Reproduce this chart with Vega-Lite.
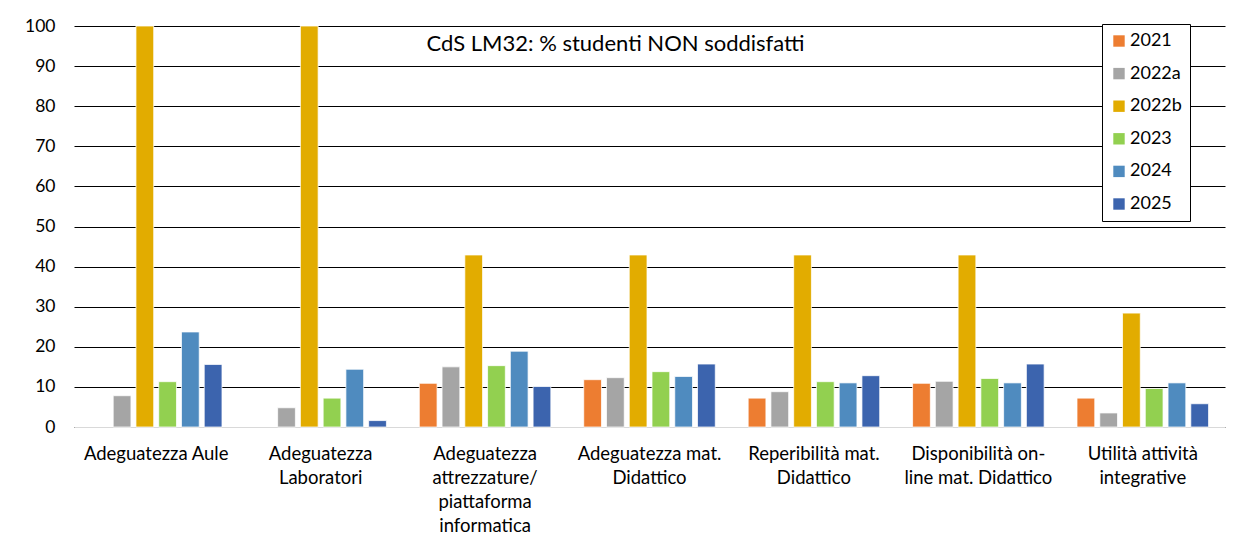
{
  "$schema": "https://vega.github.io/schema/vega-lite/v6.json",
  "width": 1151,
  "height": 401,
  "autosize": {"type": "none"},
  "padding": {"left": 74, "top": 26, "right": 11, "bottom": 106},
  "background": "white",
  "title": {
    "text": "CdS LM32: % studenti NON soddisfatti",
    "anchor": "middle",
    "orient": "top",
    "frame": "group",
    "offset": 0,
    "baseline": "middle",
    "dx": -34,
    "dy": 49,
    "font": "Lato",
    "fontSize": 22,
    "fontWeight": "normal",
    "color": "#000000"
  },
  "data": {
    "values": [
      {"item": "Adeguatezza Aule", "year": "2022a", "value": 7.8},
      {"item": "Adeguatezza Aule", "year": "2022b", "value": 100},
      {"item": "Adeguatezza Aule", "year": "2023", "value": 11.3},
      {"item": "Adeguatezza Aule", "year": "2024", "value": 23.7},
      {"item": "Adeguatezza Aule", "year": "2025", "value": 15.6},
      {"item": "Adeguatezza Laboratori", "year": "2022a", "value": 4.8},
      {"item": "Adeguatezza Laboratori", "year": "2022b", "value": 100},
      {"item": "Adeguatezza Laboratori", "year": "2023", "value": 7.2},
      {"item": "Adeguatezza Laboratori", "year": "2024", "value": 14.4},
      {"item": "Adeguatezza Laboratori", "year": "2025", "value": 1.6},
      {"item": "Adeguatezza attrezzature/ piattaforma informatica", "year": "2021", "value": 10.9},
      {"item": "Adeguatezza attrezzature/ piattaforma informatica", "year": "2022a", "value": 15.0},
      {"item": "Adeguatezza attrezzature/ piattaforma informatica", "year": "2022b", "value": 42.9},
      {"item": "Adeguatezza attrezzature/ piattaforma informatica", "year": "2023", "value": 15.3},
      {"item": "Adeguatezza attrezzature/ piattaforma informatica", "year": "2024", "value": 18.9},
      {"item": "Adeguatezza attrezzature/ piattaforma informatica", "year": "2025", "value": 10.1},
      {"item": "Adeguatezza mat. Didattico", "year": "2021", "value": 11.8},
      {"item": "Adeguatezza mat. Didattico", "year": "2022a", "value": 12.3},
      {"item": "Adeguatezza mat. Didattico", "year": "2022b", "value": 42.9},
      {"item": "Adeguatezza mat. Didattico", "year": "2023", "value": 13.8},
      {"item": "Adeguatezza mat. Didattico", "year": "2024", "value": 12.6},
      {"item": "Adeguatezza mat. Didattico", "year": "2025", "value": 15.7},
      {"item": "Reperibilità mat. Didattico", "year": "2021", "value": 7.2},
      {"item": "Reperibilità mat. Didattico", "year": "2022a", "value": 8.8},
      {"item": "Reperibilità mat. Didattico", "year": "2022b", "value": 42.9},
      {"item": "Reperibilità mat. Didattico", "year": "2023", "value": 11.3},
      {"item": "Reperibilità mat. Didattico", "year": "2024", "value": 11.0},
      {"item": "Reperibilità mat. Didattico", "year": "2025", "value": 12.8},
      {"item": "Disponibilità on-line mat. Didattico", "year": "2021", "value": 10.9},
      {"item": "Disponibilità on-line mat. Didattico", "year": "2022a", "value": 11.4},
      {"item": "Disponibilità on-line mat. Didattico", "year": "2022b", "value": 42.9},
      {"item": "Disponibilità on-line mat. Didattico", "year": "2023", "value": 12.1},
      {"item": "Disponibilità on-line mat. Didattico", "year": "2024", "value": 11.0},
      {"item": "Disponibilità on-line mat. Didattico", "year": "2025", "value": 15.7},
      {"item": "Utilità attività integrative", "year": "2021", "value": 7.2},
      {"item": "Utilità attività integrative", "year": "2022a", "value": 3.5},
      {"item": "Utilità attività integrative", "year": "2022b", "value": 28.4},
      {"item": "Utilità attività integrative", "year": "2023", "value": 9.6},
      {"item": "Utilità attività integrative", "year": "2024", "value": 11.0},
      {"item": "Utilità attività integrative", "year": "2025", "value": 5.8}
    ]
  },
  "mark": {"type": "bar", "stroke": "white", "strokeWidth": 0.75},
  "encoding": {
    "x": {
      "field": "item",
      "type": "nominal",
      "sort": null,
      "title": null,
      "scale": {"paddingInner": 0.2, "paddingOuter": 0.1},
      "axis": {
        "labelAngle": 0,
        "ticks": false,
        "domain": true,
        "domainColor": "#d9d9d9",
        "labelPadding": 17,
        "labelFont": "Lato",
        "labelFontSize": 18.5,
        "labelColor": "#000000",
        "labelLineHeight": 24,
        "labelBaseline": "top",
        "labelLimit": 0,
        "labelExpr": "datum.value == 'Adeguatezza Laboratori' ? ['Adeguatezza', 'Laboratori'] : datum.value == 'Adeguatezza attrezzature/ piattaforma informatica' ? ['Adeguatezza', 'attrezzature/', 'piattaforma', 'informatica'] : datum.value == 'Adeguatezza mat. Didattico' ? ['Adeguatezza mat.', 'Didattico'] : datum.value == 'Reperibilità mat. Didattico' ? ['Reperibilità mat.', 'Didattico'] : datum.value == 'Disponibilità on-line mat. Didattico' ? ['Disponibilità on-', 'line mat. Didattico'] : datum.value == 'Utilità attività integrative' ? ['Utilità attività', 'integrative'] : datum.value"
      }
    },
    "xOffset": {
      "field": "year",
      "type": "nominal",
      "scale": {"domain": ["2021", "2022a", "2022b", "2023", "2024", "2025"], "paddingInner": 0.22, "paddingOuter": 0}
    },
    "y": {
      "field": "value",
      "type": "quantitative",
      "title": null,
      "scale": {"domain": [0, 100], "nice": false},
      "axis": {
        "values": [0, 10, 20, 30, 40, 50, 60, 70, 80, 90, 100],
        "domain": false,
        "ticks": false,
        "grid": true,
        "gridColor": "#000000",
        "labelPadding": 19,
        "labelFont": "Lato",
        "labelFontSize": 17.5,
        "labelColor": "#000000"
      }
    },
    "color": {
      "field": "year",
      "type": "nominal",
      "title": null,
      "scale": {
        "domain": ["2021", "2022a", "2022b", "2023", "2024", "2025"],
        "range": ["#ED7D31", "#A5A5A5", "#E2AC00", "#92D050", "#4F8BBF", "#3C64AE"]
      },
      "legend": {
        "orient": "none",
        "legendX": 1028,
        "legendY": -2,
        "direction": "vertical",
        "symbolType": "square",
        "symbolSize": 130,
        "symbolStrokeWidth": 0,
        "labelFont": "Lato",
        "labelFontSize": 18,
        "labelColor": "#000000",
        "labelOffset": 2,
        "rowPadding": 14.6,
        "padding": 8,
        "fillColor": "white",
        "strokeColor": "#000000"
      }
    }
  },
  "config": {
    "view": {"stroke": null}
  }
}
